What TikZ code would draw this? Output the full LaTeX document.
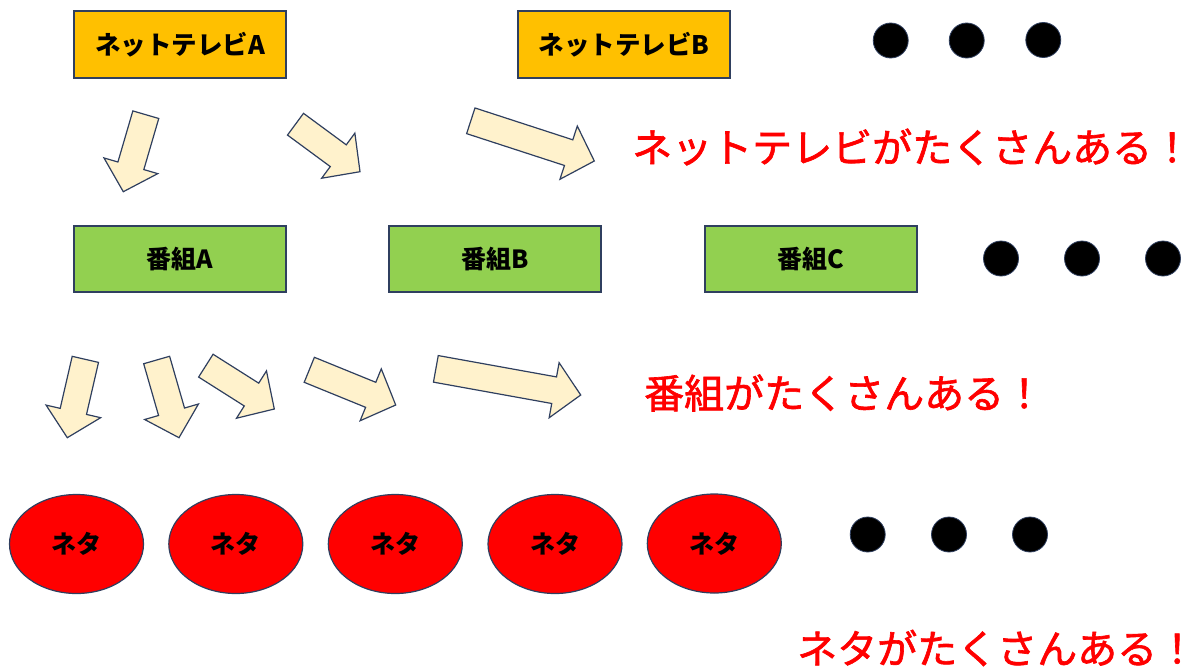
\documentclass[tikz,border=0pt]{standalone}
\usepackage{fontspec}
\setmainfont{Noto Sans CJK JP}
\newfontfamily\redfont[FakeBold=1.6]{Noto Sans CJK JP}
\usetikzlibrary{calc,shapes.geometric}
\definecolor{orangebox}{HTML}{FFC000}
\definecolor{greenbox}{HTML}{92D050}
\definecolor{arrowfill}{HTML}{FFF2CC}
\definecolor{edgecol}{HTML}{2F3F5F}
\definecolor{redtext}{HTML}{FF0000}
\tikzset{
  tvbox/.style={draw=edgecol, line width=1.2pt, fill=orangebox, minimum width=212pt, minimum height=67pt, inner sep=0pt, font=\fontsize{25.5pt}{25.5pt}\selectfont\bfseries},
  progbox/.style={draw=edgecol, line width=1.2pt, fill=greenbox, minimum width=212pt, minimum height=66pt, inner sep=0pt, font=\fontsize{25pt}{25pt}\selectfont\bfseries},
  netaell/.style={ellipse, draw=edgecol, line width=1.2pt, fill=red, minimum width=134pt, minimum height=99pt, inner sep=0pt, font=\fontsize{25pt}{25pt}\selectfont\bfseries},
  dotmark/.style={circle, fill=black, draw=edgecol, line width=0.8pt, minimum size=35pt, inner sep=0pt},
  bigarrow/.style={draw=edgecol, line width=1.2pt, fill=arrowfill, line join=miter},
  redmsg/.style={anchor=west, inner sep=0pt, text=redtext, font=\fontsize{40pt}{40pt}\selectfont\redfont}
}
\newcommand\fatarrow[2]{%
  \coordinate (tl) at (#1);
  \coordinate (tp) at (#2);
  \coordinate (hb) at ($(tp)!27pt!(tl)$);
  \draw[bigarrow] ($(tl)!13.5pt!90:(tp)$) -- ($(hb)!13.5pt!90:(tp)$) -- ($(hb)!28pt!90:(tp)$) -- (tp)
     -- ($(hb)!28pt!-90:(tp)$) -- ($(hb)!13.5pt!-90:(tp)$) -- ($(tl)!13.5pt!-90:(tp)$) -- cycle;
}
\begin{document}
\begin{tikzpicture}[x=1pt,y=-1pt]
\useasboundingbox (0,0) rectangle (1196,667);
% TV boxes
\node[tvbox] (tvA) at (180,44.5) {ネットテレビA};
\node[tvbox] (tvB) at (624,44.5) {ネットテレビB};
\node[dotmark] (d11) at (890.7,40.5) {};
\node[dotmark] (d12) at (966.7,40.5) {};
\node[dotmark] (d13) at (1043.3,40) {};
% arrows row 1
\fatarrow{145.8,114.7}{123.3,191.7}
\fatarrow{295.5,124.2}{360,171.7}
\fatarrow{470.8,120.8}{594.3,161}
\node[redmsg] (msg1) at (632,147) {ネットテレビがたくさんある！};
% programme boxes
\node[progbox] (pA) at (180,259) {番組A};
\node[progbox] (pB) at (495,259) {番組B};
\node[progbox] (pC) at (811,259) {番組C};
\node[dotmark] (d21) at (1001,258.5) {};
\node[dotmark] (d22) at (1082,258.5) {};
\node[dotmark] (d23) at (1163,258.5) {};
% arrows row 2
\fatarrow{85.35,359.35}{67.3,437.7}
\fatarrow{156.65,360}{179,437.7}
\fatarrow{205.85,365.65}{274.3,409}
\fatarrow{309.3,369.8}{395.7,405}
\fatarrow{435.85,368.85}{580.7,395}
\node[redmsg] (msg2) at (644,393) {番組がたくさんある！};
% neta ellipses
\node[netaell] (n1) at (76.5,544) {ネタ};
\node[netaell] (n2) at (235.8,544) {ネタ};
\node[netaell] (n3) at (395.3,544) {ネタ};
\node[netaell] (n4) at (555,544) {ネタ};
\node[netaell] (n5) at (714.3,543.5) {ネタ};
\node[dotmark] (d31) at (867.7,534.5) {};
\node[dotmark] (d32) at (949,534.5) {};
\node[dotmark] (d33) at (1030,534.5) {};
\node[redmsg] (msg3) at (797,648) {ネタがたくさんある！};
\end{tikzpicture}
\end{document}
